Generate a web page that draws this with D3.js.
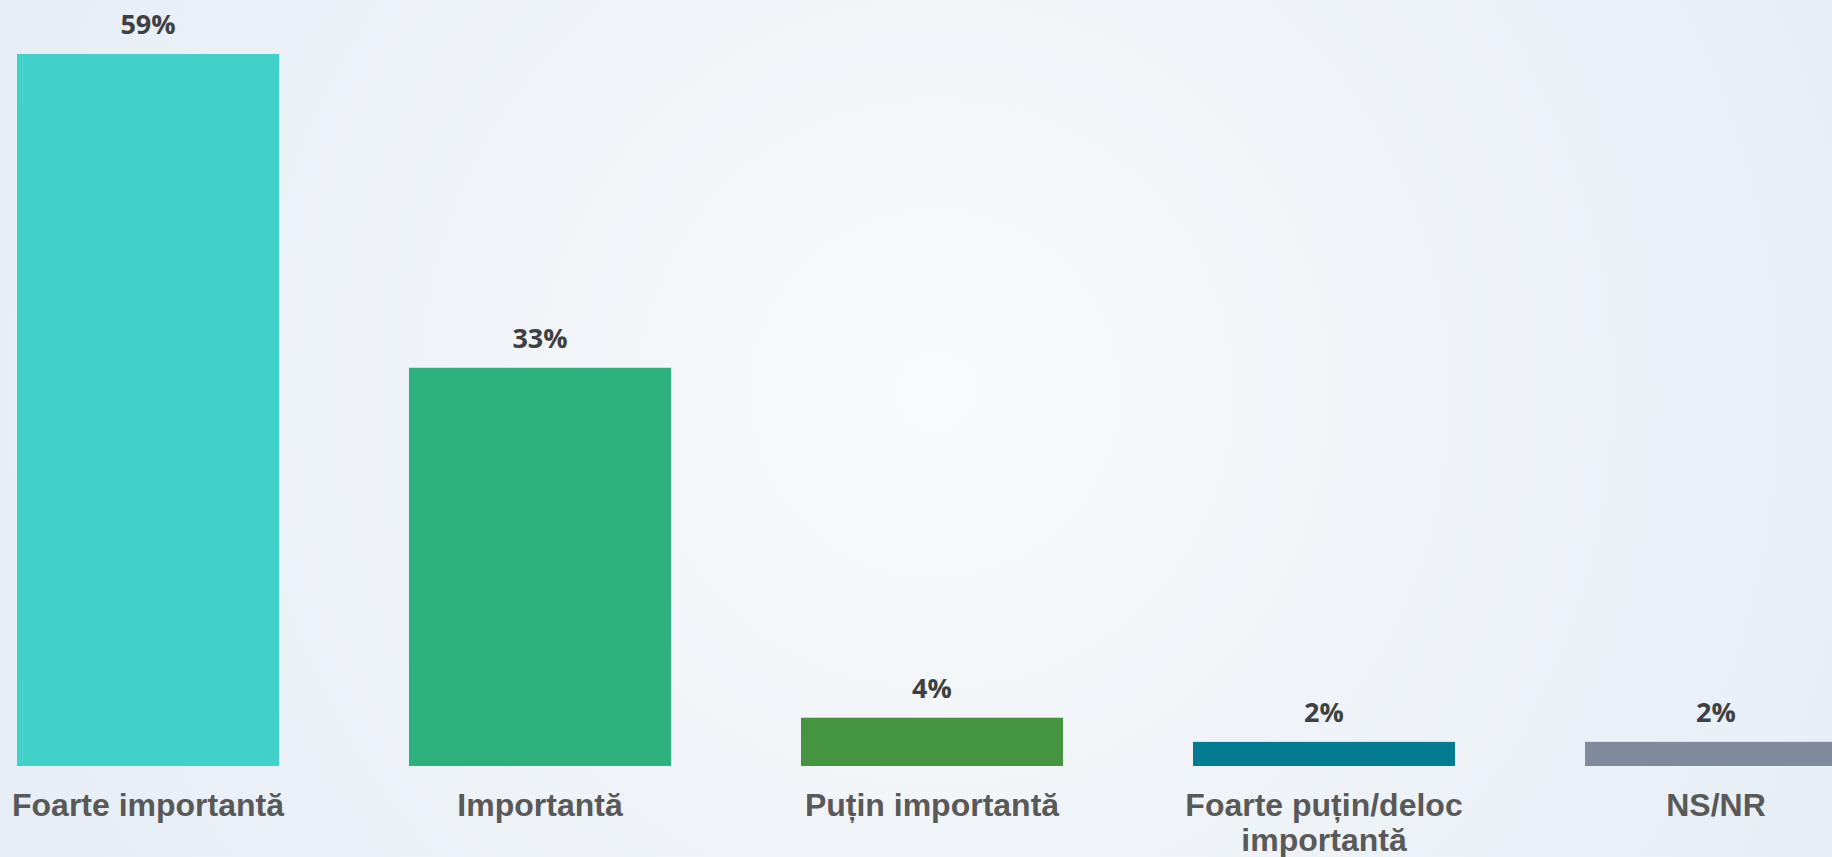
<!DOCTYPE html>
<html lang="ro">
<head>
<meta charset="UTF-8">
<title>Importanță</title>
<style>
  html, body { margin: 0; padding: 0; overflow: hidden; }
  svg { display: block; }
</style>
</head>
<body>
<div id="chart"></div>
<script src="https://cdn.jsdelivr.net/npm/d3@7"></script>
<script>
var categories = ["Foarte importantă", "Importantă", "Puțin importantă", "Foarte puțin/deloc importantă", "NS/NR"];
var values = [59, 33, 4, 2, 2];
var valueLabels = ["59%", "33%", "4%", "2%", "2%"];
var barColors = ["#41d1c9", "#2fb07f", "#449440", "#037b92", "#7f8a9d"];

(function() {
  var width = 1832;
  var height = 857;

  var svg = d3.select("#chart").append("svg")
    .attr("width", width)
    .attr("height", height);

  // soft radial background
  var grad = svg.append("defs").append("radialGradient")
    .attr("id", "bg")
    .attr("gradientUnits", "userSpaceOnUse")
    .attr("cx", 935).attr("cy", 393).attr("r", 1050);
  grad.append("stop").attr("offset", "0%").attr("stop-color", "#f9fafc");
  grad.append("stop").attr("offset", "45%").attr("stop-color", "#f0f4f8");
  grad.append("stop").attr("offset", "100%").attr("stop-color", "#e6edf5");

  svg.append("rect")
    .attr("width", width).attr("height", height)
    .attr("fill", "url(#bg)");

  var x = d3.scaleBand()
    .domain(categories)
    .range([-48, 1912])
    .paddingInner(0.3316)
    .paddingOuter(0.1658);

  var y = d3.scaleLinear()
    .domain([0, 59])
    .range([766, 54]);

  svg.selectAll(".bar")
    .data(values)
    .enter().append("rect")
    .attr("class", "bar")
    .attr("x", function(d, i) { return x(categories[i]); })
    .attr("y", function(d) { return y(d); })
    .attr("width", x.bandwidth())
    .attr("height", function(d) { return y(0) - y(d); })
    .attr("fill", function(d, i) { return barColors[i]; });

  svg.selectAll(".val")
    .data(values)
    .enter().append("text")
    .attr("class", "val")
    .attr("x", function(d, i) { return x(categories[i]) + x.bandwidth() / 2; })
    .attr("y", function(d) { return y(d) - 20; })
    .attr("text-anchor", "middle")
    .style("font-family", "'Open Sans', sans-serif")
    .style("font-weight", 700)
    .style("font-size", "27px")
    .style("fill", "#404040")
    .text(function(d, i) { return valueLabels[i]; });

  var axis = svg.append("g")
    .attr("transform", "translate(0," + y(0) + ")")
    .call(d3.axisBottom(x).tickSize(0));
  axis.select(".domain").remove();

  axis.selectAll("text")
    .attr("dy", 0)
    .style("font-family", "'Liberation Sans', Arial, sans-serif")
    .style("font-weight", 700)
    .style("font-size", "32px")
    .style("fill", "#595959")
    .each(function() { wrap(d3.select(this), 300); });

  function wrap(text, maxWidth) {
    var words = text.text().split(" ");
    var lines = [];
    var line = [];
    text.text(null);
    var probe = text.append("tspan");
    words.forEach(function(w) {
      line.push(w);
      probe.text(line.join(" "));
      if (probe.node().getComputedTextLength() > maxWidth && line.length > 1) {
        line.pop();
        lines.push(line.join(" "));
        line = [w];
      }
    });
    lines.push(line.join(" "));
    probe.remove();
    text.attr("y", 50);
    lines.forEach(function(l, k) {
      text.append("tspan")
        .attr("x", 0)
        .attr("y", 50 + k * 35)
        .text(l);
    });
  }
})();
</script>
</body>
</html>
